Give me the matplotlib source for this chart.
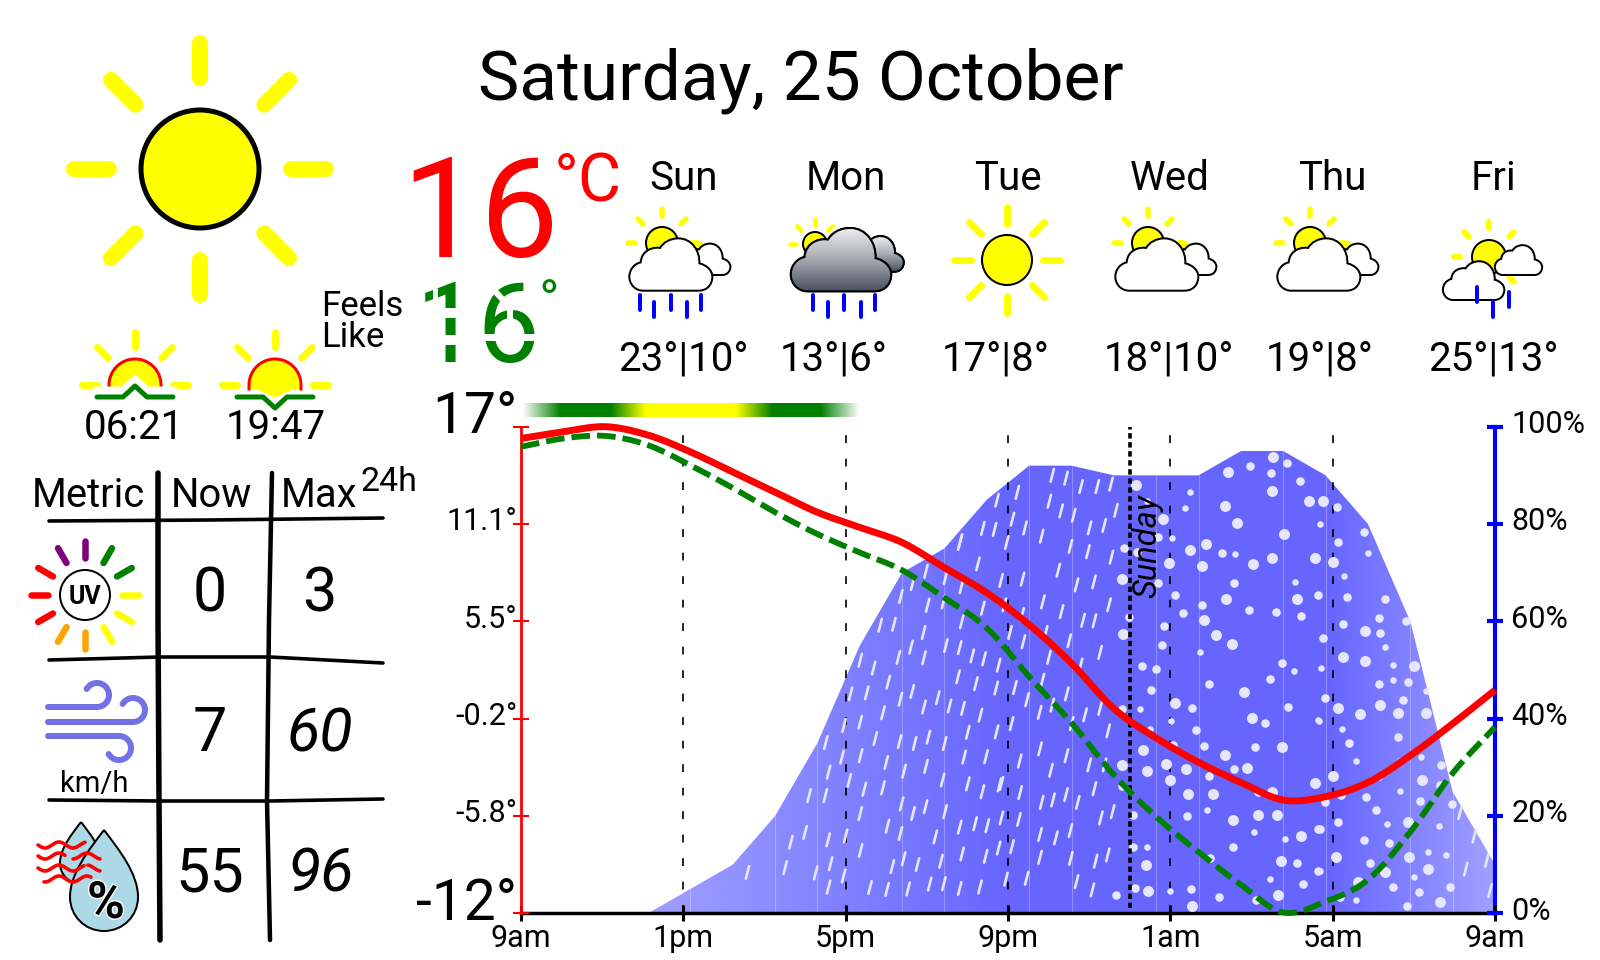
import numpy as np
import matplotlib
matplotlib.use("Agg")
import matplotlib.pyplot as plt
import matplotlib.patheffects as pe
from matplotlib.collections import LineCollection
from matplotlib.colors import LinearSegmentedColormap
from matplotlib.patches import Circle, PathPatch, Polygon
from matplotlib.path import Path
from matplotlib.transforms import ScaledTranslation

plt.rcParams["font.family"] = ["Roboto", "DejaVu Sans"]

# ---- donnees ----
title = "Saturday, 25 October"
sunrise, sunset = "06:21", "19:47"
temp_now, feels_now = "16", "16"

days = ["Sun", "Mon", "Tue", "Wed", "Thu", "Fri"]
day_ranges = ["23°|10°", "13°|6°", "17°|8°", "18°|10°", "19°|8°", "25°|13°"]

metric_now = ["0", "7", "55"]
metric_max = ["3", "60", "96"]

hour_labels = ["9am", "1pm", "5pm", "9pm", "1am", "5am", "9am"]
temp_labels = ["-12°", "-5.8°", "-0.2°", "5.5°", "11.1°", "17°"]
pct_labels = ["0%", "20%", "40%", "60%", "80%", "100%"]

temp = [16.3, 16.7, 17.0, 16.5, 15.5, 14.3, 13.1, 11.9, 11.0, 10.1, 8.6, 7.1,
        5.2, 2.9, 0.2, -1.55, -3.0, -4.2, -5.25, -5.05, -4.2, -2.6, -0.7, 1.3]
feels = [15.8, 16.3, 16.45, 15.9, 14.7, 13.35, 11.9, 10.6, 9.5, 8.45, 6.8, 5.0,
         2.1, -0.65, -3.75, -6.25, -8.35, -10.3, -11.95, -11.3, -10.0, -7.15, -3.65, -0.9]
precip = [0, 0, 0, 0, 5, 10, 20, 35, 55, 70, 75, 85,
          92, 92, 90, 90, 90, 95, 95, 90, 80, 60, 25, 10]

rain_h = [5.58, 6.51, 6.65, 7.0, 7.1, 7.5, 7.51, 7.58, 7.91, 7.57, 7.26, 7.63, 7.58, 7.95, 8.0,
          7.96, 8.12, 8.36, 8.69, 8.52, 8.36, 8.37, 8.09, 8.46, 8.92, 8.36, 8.37, 9.03, 8.6, 9.02,
          9.54, 9.15, 9.43, 9.77, 9.35, 9.38, 9.66, 9.97, 9.44, 9.0, 8.73, 8.92, 9.05, 9.3, 8.85,
          9.19, 9.36, 9.98, 9.65, 9.92, 9.61, 9.93, 10.02, 10.46, 10.85, 11.26, 10.81, 11.38, 10.86, 10.41,
          10.47, 10.81, 11.12, 11.41, 11.77, 10.77, 11.21, 11.71, 9.64, 9.35, 10.27, 9.93, 10.56, 10.89, 11.32,
          11.01, 11.72, 9.33, 9.7, 10.04, 10.44, 10.92, 11.46, 9.98, 10.39, 11.01, 11.37, 11.79, 10.45, 10.81,
          11.19, 11.49, 10.21, 10.87, 11.45, 11.77, 10.35, 10.07, 10.42, 10.81, 11.31,
          13.09, 13.43, 13.8, 14.2, 14.54, 12.23, 13.02, 13.31, 13.62, 14.66, 12.11, 12.42, 12.83, 14.01, 14.37,
          13.54, 13.97, 14.55, 11.97, 13.24, 12.36, 11.83, 13.69, 14.12, 12.86, 13.32, 14.49, 13.85, 14.13, 12.35,
          11.91, 12.05, 12.93, 12.38, 13.51, 14.27, 13.01, 13.79, 12.17, 12.85, 12.47, 13.45, 14.27, 13.9, 12.78,
          14.47, 12.09, 13.09, 13.57, 11.73, 11.38, 11.67, 10.83,
          12.79, 12.29, 13.06, 13.44, 14.0, 14.38, 14.13, 13.72, 13.43, 13.11, 12.83, 12.3, 11.84, 12.27, 11.84,
          14.29, 14.58, 12.79, 13.18, 13.54, 12.1, 12.79, 13.55, 14.16, 14.46, 12.46, 11.95, 13.69, 14.08,
          23.14, 23.49, 23.28, 23.8, 23.88]
rain_p = [8.4, 9.4, 14.6, 16.6, 24.2, 24.2, 35.1, 29.0, 32.1, 15.1, 8.3, 10.2, 5.4, 7.7, 15.9,
          38.6, 45.1, 52.0, 50.4, 45.3, 39.3, 32.4, 27.3, 25.5, 25.8, 20.5, 12.9, 17.9, 5.3, 4.9,
          5.0, 9.6, 11.2, 10.0, 16.4, 22.5, 20.5, 21.9, 29.2, 31.0, 35.9, 41.2, 47.5, 52.6, 59.2,
          59.4, 65.1, 70.3, 67.8, 57.7, 54.7, 52.5, 63.3, 69.0, 67.1, 71.8, 76.0, 62.7, 59.9, 64.0,
          55.0, 54.6, 52.9, 52.3, 51.0, 48.6, 47.2, 46.3, 45.6, 44.0, 44.3, 42.4, 42.6, 42.1, 40.7,
          37.2, 37.3, 35.3, 34.9, 36.2, 34.9, 32.1, 32.2, 30.2, 27.4, 26.6, 25.0, 26.4, 20.9, 17.7,
          18.4, 18.0, 15.7, 12.2, 11.7, 13.4, 10.7, 6.0, 6.1, 5.1, 5.4,
          90.0, 89.4, 87.7, 87.7, 88.2, 86.5, 84.7, 82.7, 81.8, 82.8, 81.0, 79.2, 77.5, 79.2, 79.7,
          75.4, 74.3, 73.2, 76.2, 70.5, 68.7, 68.4, 67.5, 68.1, 64.0, 62.0, 63.4, 60.2, 60.1, 61.4,
          63.4, 57.7, 57.7, 55.8, 56.0, 53.6, 52.6, 51.0, 46.4, 47.9, 43.9, 45.1, 42.1, 40.8, 41.3,
          37.5, 39.0, 42.8, 39.0, 84.9, 79.1, 78.9, 76.6,
          33.8, 31.3, 29.4, 32.4, 30.5, 30.5, 25.6, 22.8, 24.4, 23.3, 22.8, 24.8, 26.7, 19.3, 19.6,
          19.6, 20.9, 16.2, 15.5, 17.0, 13.7, 11.5, 11.3, 10.7, 12.0, 7.2, 7.0, 6.5, 4.8,
          20.7, 15.9, 9.1, 10.9, 4.7]

snow_small_h = [15.43, 16.48, 16.35, 19.7, 20.86, 16.05, 17.6, 20.27, 19.06, 21.28, 16.74, 19.71, 21.48, 19.05, 21.48,
                15.26, 16.01, 19.65, 15.49, 16.91, 18.07, 18.82, 15.43, 18.45, 15.99,
                22.29, 19.67, 20.24, 20.58, 22.17, 21.67, 21.13, 21.67, 21.33, 22.63, 22.36, 22.8, 19.68, 22.0, 20.58]
snow_small_p = [84.7, 86.5, 83.2, 80.0, 74.0, 77.1, 73.8, 69.4, 68.0, 54.8, 53.6, 50.4, 51.0, 49.7, 47.9,
                42.0, 39.6, 39.7, 37.9, 21.2, 16.7, 15.2, 13.7, 7.0, 4.5,
                45.7, 39.6, 37.9, 31.4, 32.2, 31.3, 28.0, 25.2, 18.3, 18.0, 12.7, 11.9, 8.7, 7.5, 2.7]
snow_mid_h = [17.97, 18.88, 18.47, 19.2, 20.11, 20.78, 20.13, 15.69, 14.87, 15.19, 17.27, 15.69, 17.57, 16.11, 19.65,
              20.35, 21.29, 16.79, 16.31, 17.95, 18.6, 19.21, 14.98, 21.14, 20.25, 15.85, 21.17, 19.75, 15.8, 18.74,
              15.3, 15.65, 18.46, 16.95, 21.15, 15.52, 19.8,
              14.82, 16.54, 18.9, 18.33, 16.63, 16.07, 16.83, 18.09, 17.57, 16.96, 14.81, 18.17, 15.09, 16.42, 19.63,
              15.07, 17.54, 16.98, 19.11, 19.65, 19.26, 15.13, 16.52, 14.67, 17.2, 18.11,
              21.81, 21.86, 21.74, 20.4, 21.61, 22.68, 22.65, 20.2, 20.81, 19.81, 22.14, 22.94, 21.08, 20.14, 19.68,
              20.78, 21.4, 20.93, 21.49, 22.88, 22.13, 20.17, 21.83]
snow_mid_p = [92.0, 92.5, 90.4, 88.8, 83.6, 78.3, 76.3, 77.3, 75.0, 74.3, 74.0, 67.9, 67.8, 65.5, 65.5,
              65.1, 64.6, 63.3, 61.7, 62.3, 61.9, 61.2, 60.8, 60.6, 59.5, 59.1, 57.7, 56.5, 55.1, 51.4,
              50.8, 50.3, 48.1, 47.2, 47.2, 45.9, 44.3,
              42.0, 42.2, 42.4, 39.1, 37.7, 34.6, 34.3, 34.1, 29.6, 28.3, 26.1, 25.0, 20.3, 20.0, 17.4,
              13.7, 13.7, 11.3, 10.4, 8.7, 6.1, 5.3, 5.0, 3.7, 3.3, 2.8,
              60.0, 47.6, 43.9, 35.0, 36.3, 30.4, 26.3, 24.3, 23.9, 22.9, 23.0, 22.4, 21.2, 18.8, 17.4,
              15.1, 14.4, 10.4, 5.5, 5.4, 4.3, 3.3, 1.5]
snow_big_h = [15.16, 15.83, 17.42, 18.53, 18.51, 19.42, 19.76, 17.35, 17.64, 18.81, 16.49, 16.89, 18.04, 18.51, 19.56,
              20.0, 15.97, 16.77, 14.82, 17.38, 19.12, 16.83, 20.8, 14.83, 17.12, 17.53, 20.25, 20.8, 17.81,
              16.12, 18.0, 15.32, 18.74, 17.34, 14.81, 15.89, 15.42, 16.38, 17.89, 16.0, 19.56, 16.43, 17.05, 18.51,
              17.55, 18.17, 18.64, 19.23, 18.72, 15.39, 15.46, 18.66, 16.53,
              22.01, 22.31, 21.6, 20.14, 20.68, 21.16, 20.02, 22.19, 21.85, 20.08, 21.88, 22.35, 21.3, 20.62, 22.64]
snow_big_p = [88.0, 81.0, 90.6, 93.7, 86.7, 84.8, 84.7, 83.7, 80.3, 78.0, 74.6, 75.9, 71.8, 73.0, 73.1,
              72.2, 71.9, 71.3, 68.6, 64.6, 64.6, 60.3, 58.0, 57.5, 57.2, 55.3, 52.6, 51.9, 45.4,
              43.2, 40.2, 33.5, 34.1, 32.6, 30.5, 30.7, 29.2, 29.7, 29.9, 27.4, 26.7, 24.6, 24.6, 25.0,
              19.2, 20.3, 20.2, 15.9, 10.8, 10.0, 4.6, 3.8, 1.6,
              50.8, 41.1, 41.1, 42.2, 40.9, 42.8, 28.3, 27.4, 18.7, 11.5, 11.5, 9.1, 8.5, 6.5, 2.4]

PX = 0.72  # 1 px en points a dpi=100
GREEN = "#008000"
YELLOW = "#ffff00"
RED = "#ff0000"
BLUE = "#0000ff"
SKY = "#7272e4"

fig = plt.figure(figsize=(16, 9.6), dpi=100)
bg = fig.add_axes([0, 0, 1, 1])
bg.set_axis_off()


def label(x, y, s, size, ha="left", color="black", **kw):
    return bg.text(x, y, s, fontsize=size, ha=ha, va="baseline", color=color, **kw)


def rays(cx, cy, r1, r2, angles, width, colors=YELLOW):
    if isinstance(colors, str):
        colors = [colors] * len(angles)
    for a, c in zip(angles, colors):
        ca, sa = np.cos(np.radians(a)), np.sin(np.radians(a))
        bg.plot([cx + r1 * ca, cx + r2 * ca], [cy + r1 * sa, cy + r2 * sa], color=c,
                lw=width * PX, solid_capstyle="round", zorder=2)


def sun(cx, cy, r, r1, r2, width, edge=2, angles=range(0, 360, 45)):
    rays(cx, cy, r1, r2, list(angles), width)
    bg.add_patch(Circle((cx, cy), r, fc=YELLOW, ec="black", lw=edge * PX, zorder=3))


def cloud_path(ox, oy, s):
    """nuage de base, origine au milieu de la ligne du bas"""
    pts = [(-80, 0), (85, 0),
           (115, 0), (127, -22), (127, -42),
           (127, -62), (108, -78), (88, -82),
           (90, -120), (65, -157), (25, -157),
           (0, -157), (-20, -145), (-30, -128),
           (-45, -132), (-85, -125), (-88, -85),
           (-110, -80), (-122, -60), (-122, -42),
           (-122, -20), (-105, 0), (-80, 0)]
    codes = [Path.MOVETO, Path.LINETO] + [Path.CURVE4] * 21
    xy = np.array(pts, dtype=float) * s / 3 + (ox, oy)
    return Path(xy, codes)


def cloud(ox, oy, s, z=4, shade=False):
    path = cloud_path(ox, oy, s)
    patch = PathPatch(path, fc="white", ec="black", lw=2 * PX, zorder=z)
    bg.add_patch(patch)
    if shade:
        x0, y0 = path.vertices.min(axis=0)
        x1, y1 = path.vertices.max(axis=0)
        grad = np.linspace(0, 1, 64).reshape(-1, 1)
        cmap = LinearSegmentedColormap.from_list("c", ["#eeeef0", "#a8abb4", "#4c5261"])
        im = bg.imshow(grad, extent=(x0, x1, y1, y0), aspect="auto", cmap=cmap, zorder=z + 0.1)
        back = PathPatch(path, fc="none", ec="black", lw=2 * PX, zorder=z + 0.2)
        bg.add_patch(back)
        im.set_clip_path(patch)


def drops(xs, y_tops, length=15):
    for x, y in zip(xs, y_tops):
        bg.plot([x, x], [y, y + length], color=BLUE, lw=4 * PX, solid_capstyle="round", zorder=6)


# ---- en-tete ----
label(478, 100, title, 50)
sun(200, 169, 59, 91, 126, 16, edge=5)

label(401, 257, temp_now, 101, color=RED)
label(554, 202, "°C", 48, color=RED)
label(321, 316, "Feels", 25)
label(321, 347, "Like", 25)

# ressenti : chiffres coupes comme un tireté
label(416, 362, feels_now, 80, color=GREEN)
label(539, 319, "°", 40, color=GREEN)
for seg, w in [(((441, 313), (460, 313)), 10), (((441, 340), (460, 340)), 10),
               (((435, 288), (435, 306)), 5), (((492, 288), (505, 302)), 6),
               (((510, 303), (510, 320)), 6), (((481, 337), (539, 337)), 7)]:
    bg.plot(*zip(*seg), color="white", lw=w * PX, solid_capstyle="butt", zorder=3)

# ---- lever et coucher ----
for cx, text, tx in [(135, sunrise, 134), (275, sunset, 276)]:
    rays(cx, 385, 38, 53, [180, 225, 270, 315, 0], 7)
    th = np.radians(np.linspace(0, 180, 50))
    arc_x = np.r_[cx + 26, cx + 26 * np.cos(th), cx - 26]
    arc_y = np.r_[389, 385 - 26 * np.sin(th), 389]
    bg.fill(arc_x, arc_y, color=YELLOW, zorder=3)
    bg.plot(arc_x, arc_y, color=RED, lw=3 * PX, zorder=4)
    label(tx, 439, text, 29, ha="center")
gx = np.array([97, 123, 135, 147, 173])
bg.plot(gx, [390, 390, 379, 390, 390], color="white", lw=7 * PX, zorder=4.5)
bg.plot(gx, [397, 397, 386, 397, 397], color=GREEN, lw=5 * PX, solid_capstyle="round",
        solid_joinstyle="round", zorder=5)
bg.fill([258, 275, 292], [389, 397, 389], color=YELLOW, zorder=3)
bg.plot(gx + 140, [397, 397, 408, 397, 397], color=GREEN, lw=5 * PX, solid_capstyle="round",
        solid_joinstyle="round", zorder=5)

# ---- tableau ----
label(32, 507, "Metric", 28.8)
label(171, 507, "Now", 28.8)
label(281, 507, "Max", 28.8)
label(361, 491, "24h", 24.5)
for xs, ys, w in [((158, 158, 159, 160), (473, 620, 800, 940), 5.5),
                  ((272, 269, 267, 270), (473, 620, 800, 940), 4.5),
                  ((49, 210, 383), (521, 520, 518), 3.6),
                  ((49, 160, 270, 383), (660, 657, 657, 663), 3.6),
                  ((49, 160, 270, 383), (800, 801, 801, 799), 3.6)]:
    bg.plot(xs, ys, color="black", lw=w * PX, solid_capstyle="round", zorder=2)
for y, now, mx, it in zip([611, 751, 892], metric_now, metric_max, [False, True, True]):
    label(210, y, now, 44, ha="center")
    label(320.5 if it else 319, y, mx, 44, ha="center", style="italic" if it else "normal")

# icone UV
uv_colors = ["#ffff00", "#ffff00", "#ffff00", "#ffa500", "#ffa500", "#ff0000",
             "#ff0000", "#ff0000", "#800080", "#800080", "#008000", "#008000"]
rays(85, 595, 37, 54, list(range(0, 360, 30)), 6.5, uv_colors)
bg.add_patch(Circle((85, 595), 25, fc="white", ec="black", lw=2 * PX, zorder=3))
label(85, 604, "UV", 18, ha="center", weight="bold", zorder=4)

# icone vent
for x0, y0, xc, th1, th2, sgn in [(48, 707, 97, 90, -150, -1), (48, 722, 133, 90, -150, -1),
                                  (48, 736, 119, -90, 150, 1)]:
    t = np.radians(np.linspace(th1, th2, 40))
    cy = y0 + sgn * 12
    bg.plot(np.r_[x0, xc + 12 * np.cos(t)], np.r_[y0, cy + 12 * np.sin(t)], color=SKY,
            lw=6 * PX, solid_capstyle="round", zorder=3)
label(94, 792, "km/h", 21, ha="center")

# icone humidite


def drop(ax_x, ax_y, half, cy, z):
    v = [(ax_x, ax_y), (ax_x + 0.45 * half, ax_y + 0.3 * (cy - ax_y)), (ax_x + half, ax_y + 0.65 * (cy - ax_y)),
         (ax_x + half, cy), (ax_x + half, cy + 0.56 * half), (ax_x + 0.56 * half, cy + half), (ax_x, cy + half),
         (ax_x - 0.56 * half, cy + half), (ax_x - half, cy + 0.56 * half), (ax_x - half, cy),
         (ax_x - half, ax_y + 0.65 * (cy - ax_y)), (ax_x - 0.45 * half, ax_y + 0.3 * (cy - ax_y)), (ax_x, ax_y)]
    bg.add_patch(PathPatch(Path(v, [Path.MOVETO] + [Path.CURVE4] * 12), fc="#add8e6", ec="black",
                           lw=2 * PX, zorder=z))


drop(81, 822, 21, 863, 3)
drop(104, 830, 34, 897, 3.1)
for y0, x0, x1 in [(845, 38, 85), (856, 38, 65), (856, 73, 100), (868, 38, 84), (868, 88, 100), (879, 44, 91)]:
    xs = np.linspace(x0, x1, 40)
    bg.plot(xs, y0 + 3 * np.sin((xs - 38) / 28 * 2 * np.pi), color=RED, lw=3.6 * PX, zorder=4,
            solid_capstyle="round")
label(106, 918, "%", 37, ha="center", weight="bold", zorder=5,
      path_effects=[pe.withStroke(linewidth=2, foreground="white")])

# ---- previsions ----
for i, (d, r) in enumerate(zip(days, day_ranges)):
    label(684 + 162 * i, 190, d, 29, ha="center")
    label(618 + 162 * i, 370, r, 29)


def partly(dx):
    rays(662 + dx, 243, 27, 34, [180, 225, 270, 315], 5.5)
    bg.add_patch(Circle((662 + dx, 243), 16, fc=YELLOW, ec="black", lw=2 * PX, zorder=3))
    bg.add_patch(Circle((695 + dx, 252), 12, fc=YELLOW, ec="none", zorder=3))
    cloud(705 + dx, 275, 0.6, z=4)
    cloud(670 + dx, 290.7, 1.0, z=5)


partly(0)
drops([640, 654, 671, 687, 701], [295, 302, 295, 302, 295])

rays(815, 244, 19, 25, [180, 225, 270, 315], 4.5)
bg.add_patch(Circle((815, 244), 12, fc=YELLOW, ec="black", lw=2 * PX, zorder=3))
cloud(875, 271.7, 0.68, z=4, shade=True)
cloud(840, 291.3, 1.21, z=5, shade=True)
drops([813, 828, 844, 861, 875], [295, 302, 295, 302, 295])

sun(1007, 260, 25, 36, 53, 7)

partly(486)
partly(648)

rays(1489, 257, 29, 35, [45, 180, 225, 270, 315], 6)
bg.add_patch(Circle((1489, 257), 17, fc=YELLOW, ec="black", lw=2 * PX, zorder=3))
cloud(1518, 275, 0.57, z=4)
cloud(1473, 300, 0.74, z=5)
drops([1477, 1493, 1509], [287, 302, 292])

# barre de degrade au-dessus du graphique
bar_stops = [(521.7, "white"), (560, GREEN), (610, GREEN), (645, YELLOW), (735, YELLOW),
             (772, GREEN), (820, GREEN), (859, "white")]
bar_cmap = LinearSegmentedColormap.from_list(
    "bar", [((x - 521.7) / (859 - 521.7), c) for x, c in bar_stops])
bg.imshow(np.linspace(0, 1, 512).reshape(1, -1), extent=(521.7, 859, 416.7, 403), aspect="auto", cmap=bar_cmap)

bg.set_xlim(0, 1600)
bg.set_ylim(960, 0)

# ---- graphique ----
ax = fig.add_axes([521 / 1600, 1 - 913.3 / 960, 974 / 1600, 486.6 / 960], facecolor="none")
ax_t = ax.twinx()

pop_x = np.arange(len(precip)) * 24 / (len(precip) - 1)
verts = np.column_stack([pop_x[3:], precip[3:]])
verts = np.vstack([verts, [24, 0]])
area = Polygon(verts, closed=True, fc="none", ec="none", transform=ax.transData)
ax.add_patch(area)
area_cmap = LinearSegmentedColormap.from_list(
    "area", [(0, "#a6a6ff"), (0.13, "#a0a0ff"), (0.5, "#6666ff"), (0.83, "#6666ff"), (1, "#a0a0ff")])
im = ax.imshow(np.linspace(0, 1, 512).reshape(1, -1), extent=(0, 24, 0, 100), aspect="auto", cmap=area_cmap, zorder=1)
im.set_clip_path(area)

# joints clairs entre les bandes
for i, (x, p) in enumerate(zip(pop_x, precip)):
    if i >= 4 and i % 3 != 2 and i < 23:
        ax.plot([x, x], [0, p], color="white", alpha=0.25, lw=0.8, zorder=2)

for h in [4, 8, 12, 16, 20]:
    ax.plot([h, h], [0, 100], color="black", lw=1.2, dashes=(4.7, 9.4), zorder=3)

rain_h, rain_p = np.array(rain_h), np.array(rain_p)
segs = np.stack([np.column_stack([rain_h - 0.04, rain_p - 1.3]),
                 np.column_stack([rain_h + 0.04, rain_p + 1.3])], axis=1)
ax.add_collection(LineCollection(segs, colors="#e6e6ff", linewidths=1.9, capstyle="round", zorder=4))
for hs, ps, s in [(snow_small_h, snow_small_p, 22), (snow_mid_h, snow_mid_p, 38), (snow_big_h, snow_big_p, 62)]:
    ax.scatter(hs, ps, s=s, color="#e6e6ff", linewidths=0, zorder=4)

ax.plot([15, 15], [1, 100], color="black", lw=2.6, dashes=(1.5, 1.0), zorder=5)


def smooth(x, y, n=10):
    """lisse la courbe entre les points lus (tangentes de Catmull-Rom)"""
    x, y = np.asarray(x, float), np.asarray(y, float)
    m = np.gradient(y, x)
    tx, ty = [], []
    for i in range(len(x) - 1):
        t = np.linspace(0, 1, n, endpoint=False)
        d = x[i + 1] - x[i]
        h00 = 2 * t**3 - 3 * t**2 + 1
        h10 = t**3 - 2 * t**2 + t
        h01 = -2 * t**3 + 3 * t**2
        h11 = t**3 - t**2
        tx.append(x[i] + t * d)
        ty.append(h00 * y[i] + h10 * d * m[i] + h01 * y[i + 1] + h11 * d * m[i + 1])
    return np.r_[np.concatenate(tx), x[-1]], np.r_[np.concatenate(ty), y[-1]]


ax_t.plot(*smooth(pop_x, feels), color=GREEN, lw=4.2, dashes=(3.2, 1.2), dash_capstyle="butt",
          clip_on=False, zorder=3)
ax_t.plot(*smooth(pop_x, temp), color=RED, lw=5, solid_capstyle="butt", clip_on=False, zorder=4)
ax_t.text(15.43, 9.9, "Sunday", rotation=90, fontsize=23.5, style="italic", ha="center", va="center", zorder=6)

ax.set_xlim(0, 24)
ax.set_ylim(0, 100)
ax_t.set_ylim(-12, 17)

ax.set_xticks([0, 4, 8, 12, 16, 20, 24], hour_labels, fontsize=22)
ax.tick_params(axis="x", direction="inout", length=11.5, width=2.2, color="black", pad=2)

ax.yaxis.tick_right()
ax.set_yticks(np.linspace(0, 100, 6), pct_labels, fontsize=22)
ax.tick_params(axis="y", direction="inout", length=11.5, width=3, color=BLUE, pad=6)
ax.set_axisbelow(False)

ax_t.yaxis.tick_left()
ax_t.set_yticks(np.linspace(-12, 17, 6), temp_labels, fontsize=22)
ax_t.tick_params(axis="y", direction="inout", length=11.5, width=1.5, color=RED, pad=-3)
ax_t.tick_params(axis="x", bottom=False, labelbottom=False)

offset = ScaledTranslation(0, -6.4 / 100, fig.dpi_scale_trans)
for lab in ax.get_yticklabels() + ax_t.get_yticklabels():
    lab.set_va("baseline")
    lab.set_transform(lab.get_transform() + offset)
ax_t.get_yticklabels()[0].set_fontsize(41)
ax_t.get_yticklabels()[-1].set_fontsize(41)

for a in (ax, ax_t):
    for s in a.spines.values():
        s.set_visible(False)
ax.spines["bottom"].set_visible(True)
ax.spines["bottom"].set_linewidth(2.5)
ax.spines["right"].set_visible(True)
ax.spines["right"].set_color(BLUE)
ax.spines["right"].set_linewidth(3)
ax_t.spines["left"].set_visible(True)
ax_t.spines["left"].set_color(RED)
ax_t.spines["left"].set_linewidth(2)

fig.savefig("out.png", dpi=100)
